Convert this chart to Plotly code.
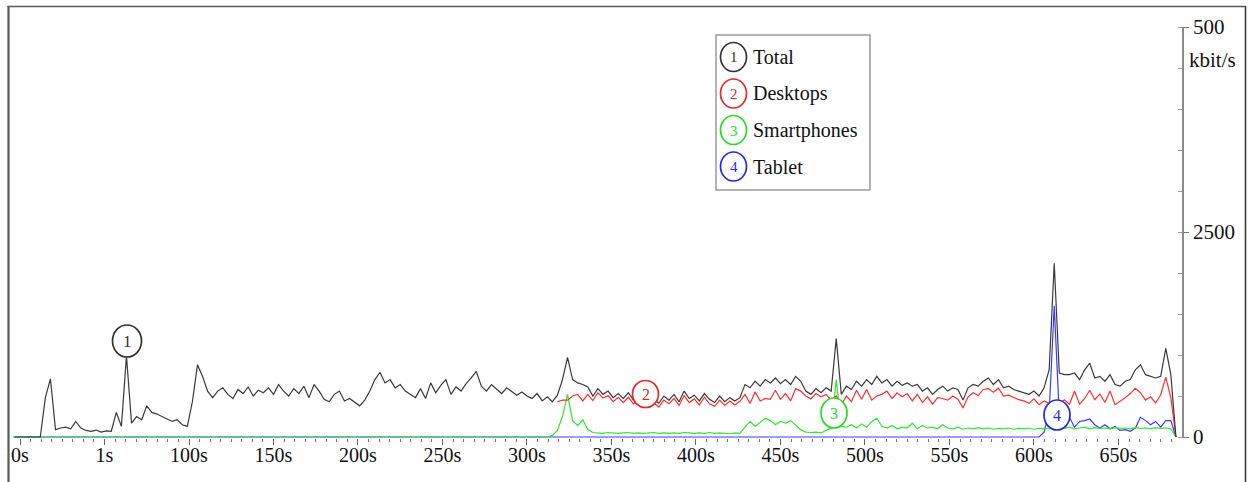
import plotly.graph_objects as go

# ---------------- data (kbit/s) ----------------
STEP = 3
BASELINE_START = -4            # seconds, where the zero lines begin

TOTAL_START = -3
TOTAL = [
    0, 0, 0, 0, 0, 0, 480, 710, 90, 110,
    120, 100, 190, 110, 80, 70, 85, 60, 75, 70,
    300, 130, 990, 170, 250, 210, 380, 300, 280, 250,
    230, 190, 210, 150, 130, 430, 880, 740, 560, 480,
    560, 600, 520, 470, 580, 530, 610, 500, 570, 540,
    600, 520, 640, 560, 500, 590, 530, 620, 480, 640,
    560, 460, 430, 520, 560, 440, 470, 430, 380, 450,
    560, 700, 790, 660, 700, 600, 640, 560, 520, 480,
    590, 470, 660, 540, 630, 700, 520, 610, 560, 650,
    720, 800, 620, 560, 640, 580, 530, 600, 560, 510,
    550, 500, 470, 530, 440, 490, 430, 510, 700, 970,
    700, 660, 640, 610, 500, 590, 520, 560, 480, 530,
    470, 540, 450, 500, 420, 520, 470, 410, 500, 450,
    520, 430, 560, 470, 510, 440, 530, 460, 420, 500,
    430, 480, 440, 480, 640, 600, 680, 620, 700, 660,
    720, 650, 700, 640, 740, 680, 560, 520, 590, 540,
    600, 560, 1200, 520, 620, 580, 680, 620, 700, 640,
    740, 660, 700, 620, 680, 630, 660, 620, 640, 560,
    600, 520, 580, 620, 560, 600, 580, 450, 600, 640,
    620, 680, 720, 640, 700, 600, 620, 580, 560, 540,
    520, 560, 500, 600, 820, 2120, 780, 760, 760, 780,
    700, 820, 900, 720, 740, 680, 760, 640, 620, 680,
    700, 820, 880, 760, 740, 720, 740, 1080, 760, 0,
]

DESKTOPS_START = 318
DESKTOPS = [
    430, 450, 450, 500, 520, 440, 520, 445, 540, 475, 505, 430, 485,
    420, 485, 405, 450, 375, 470, 415, 365, 450, 405,
    470, 385, 505, 420, 465, 390, 485, 405, 375, 450,
    385, 440, 390, 435, 520, 410, 550, 440, 470, 460,
    570, 460, 530, 440, 590, 560, 500, 465, 530, 490,
    520, 450, 500, 390, 500, 430, 570, 460, 580, 450,
    500, 520, 560, 470, 540, 490, 530, 440, 520, 420,
    490, 400, 480, 470, 450, 500, 460, 355, 490, 540,
    505, 580, 590, 545, 595, 500, 510, 485, 455, 440,
    410, 465, 395, 440, 410, 420, 405, 455, 400, 560,
    400, 470, 570, 455, 525, 420, 560, 395, 435, 480,
    530, 595, 540, 450, 490, 415, 515, 730, 480, 0,
]

SMARTPHONES_START = 312
SMARTPHONES = [
    0, 20, 80, 250, 520, 200, 140, 210, 90, 55,
    50, 45, 55, 50, 45, 50, 55, 45, 50, 45,
    50, 55, 45, 50, 45, 50, 45, 55, 50, 45,
    50, 45, 55, 45, 50, 45, 40, 50, 45, 120,
    190, 130, 180, 230, 200, 150, 190, 170, 200, 150,
    90, 60, 55, 60, 50, 80, 110, 700, 130, 120,
    150, 110, 160, 120, 190, 230, 130, 110, 140, 100,
    120, 110, 170, 100, 140, 110, 120, 100, 150, 110,
    100, 120, 95, 110, 100, 115, 100, 110, 95, 105,
    100, 110, 95, 105, 100, 110, 95, 105, 100, 110,
    100, 115, 105, 120, 100, 110, 120, 100, 115, 105,
    110, 100, 115, 105, 110, 100, 115, 105, 110, 100,
    115, 105, 110, 100, 0,
]

TABLET_START = 603
TABLET = [
    0, 60, 300, 1600, 260, 200, 240, 120, 190, 200,
    220, 150, 110, 150, 100, 130, 80, 90, 70, 110,
    240, 200, 150, 190, 120, 200, 200, 0,
]

X_TICKS = [0, 50, 100, 150, 200, 250, 300, 350, 400, 450, 500, 550, 600, 650]
X_LABELS = ["0s", "1s", "100s", "150s", "200s", "250s", "300s", "350s",
            "400s", "450s", "500s", "550s", "600s", "650s"]
Y_TICKS = [0, 2500, 5000]
Y_LABELS = ["0", "2500", "500"]

SERIES_NAMES = ["Total", "Desktops", "Smartphones", "Tablet"]
SERIES_COLORS = ["#3a3a3a", "#ff2e2e", "#2ee82e", "#3a3aff"]
MARK_COLORS = ["#333333", "#e02a2a", "#22dd22", "#2a2ad8"]

# ---------------- helpers ----------------
def times(start, vals):
    return [start + STEP * i for i in range(len(vals))]

W, H = 1249, 482
ML, MR, MT, MB = 11, 67, 27, 44
PW, PH = W - ML - MR, H - MT - MB


def px(x):
    return (x - ML) / PW


def py(y):
    return (MT + PH - y) / PH


FONT = "'Liberation Serif', 'Times New Roman', Times, 'DejaVu Serif', serif"

fig = go.Figure()

# draw order: tablet, smartphones, desktops, total
fig.add_trace(go.Scatter(x=[BASELINE_START] + times(TABLET_START, TABLET),
                         y=[0] + TABLET, mode="lines",
                         line=dict(color=SERIES_COLORS[3], width=1.2),
                         name=SERIES_NAMES[3]))
fig.add_trace(go.Scatter(x=[BASELINE_START] + times(SMARTPHONES_START, SMARTPHONES),
                         y=[0] + SMARTPHONES, mode="lines",
                         line=dict(color=SERIES_COLORS[2], width=1.2),
                         name=SERIES_NAMES[2]))
fig.add_trace(go.Scatter(x=times(DESKTOPS_START, DESKTOPS), y=DESKTOPS,
                         mode="lines",
                         line=dict(color=SERIES_COLORS[1], width=1.2),
                         name=SERIES_NAMES[1]))
fig.add_trace(go.Scatter(x=times(TOTAL_START, TOTAL), y=TOTAL, mode="lines",
                         line=dict(color=SERIES_COLORS[0], width=1.2),
                         name=SERIES_NAMES[0]))

shapes = []
annotations = []

# outer frame (left, top, right)
shapes.append(dict(type="line", xref="paper", yref="paper",
                   x0=px(8.5), x1=px(8.5), y0=py(6), y1=py(500),
                   line=dict(color="#5a5a5a", width=2.2)))
shapes.append(dict(type="line", xref="paper", yref="paper",
                   x0=px(7.5), x1=px(1245.5), y0=py(6.5), y1=py(6.5),
                   line=dict(color="#5a5a5a", width=1.6)))
shapes.append(dict(type="line", xref="paper", yref="paper",
                   x0=px(1245.5), x1=px(1245.5), y0=py(6), y1=py(500),
                   line=dict(color="#3a3a3a", width=1.6)))

# legend box
shapes.append(dict(type="rect", xref="paper", yref="paper",
                   x0=px(716), x1=px(870), y0=py(190), y1=py(35),
                   line=dict(color="#9a9a9a", width=1.5),
                   fillcolor="white", layer="above"))


def circled(cx, cy, rx, ry, num, color, size):
    shapes.append(dict(type="circle", xref="paper", yref="paper",
                       x0=px(cx - rx), x1=px(cx + rx),
                       y0=py(cy + ry), y1=py(cy - ry),
                       line=dict(color=color, width=1.7),
                       fillcolor="white", layer="above"))
    annotations.append(dict(xref="paper", yref="paper", x=px(cx), y=py(cy + 0.5),
                            text=str(num), showarrow=False,
                            xanchor="center", yanchor="middle",
                            font=dict(family=FONT, size=size, color=color)))


legend_y = [57, 93.5, 130, 166.5]
for i, name in enumerate(SERIES_NAMES):
    circled(733.5, legend_y[i], 13, 14.5, i + 1, MARK_COLORS[i], 15)
    annotations.append(dict(xref="paper", yref="paper", x=px(751), y=py(legend_y[i]),
                            text=name, showarrow=False,
                            xanchor="left", yanchor="middle",
                            font=dict(family=FONT, size=20, color="#111")))

# circled labels on the curves
circled(127, 341, 14.5, 16, 1, MARK_COLORS[0], 17)
circled(645.5, 394, 13, 13.5, 2, MARK_COLORS[1], 16)
circled(834, 413, 13, 15, 3, MARK_COLORS[2], 16)
circled(1057, 415, 13, 15, 4, MARK_COLORS[3], 16)

# unit label under the top y tick
annotations.append(dict(xref="paper", yref="paper", x=px(1187), y=py(60),
                        text="kbit/s", showarrow=False,
                        xanchor="left", yanchor="middle",
                        font=dict(family=FONT, size=21, color="#111")))

x_lo = -5.33
x_hi = 687.6

fig.update_layout(
    width=W, height=H,
    margin=dict(l=ML, r=MR, t=MT, b=MB, pad=0),
    paper_bgcolor="white", plot_bgcolor="white",
    showlegend=False,
    font=dict(family=FONT),
    shapes=shapes, annotations=annotations,
    xaxis=dict(range=[x_lo, x_hi], showgrid=False, zeroline=False, showline=False,
               automargin=False,
               tickmode="array", tickvals=X_TICKS, ticktext=X_LABELS,
               ticks="outside", ticklen=6, tickwidth=1.2, tickcolor="#666",
               ticklabelstandoff=-7,
               tickfont=dict(family=FONT, size=20, color="#111"),
               minor=dict(tickmode="array",
                          tickvals=[6.25 * k for k in range(0, 110)],
                          ticks="outside", ticklen=3, tickwidth=1, tickcolor="#777")),
    yaxis=dict(range=[-12, 5000], side="right", showgrid=False, zeroline=False,
               automargin=False,
               showline=True, linecolor="#8a8a8a", linewidth=1.6,
               tickmode="array", tickvals=Y_TICKS, ticktext=Y_LABELS,
               ticks="outside", ticklen=5, tickwidth=1.2, tickcolor="#777",
               tickfont=dict(family=FONT, size=21, color="#111"),
               minor=dict(tickmode="array",
                          tickvals=[500 * k for k in range(0, 11)],
                          ticks="inside", ticklen=4, tickwidth=1, tickcolor="#999")),
)

fig.write_html(
    "out.html",
    config={"displayModeBar": False},
    post_script="document.body.style.margin='0';document.body.style.overflow='hidden';",
)
